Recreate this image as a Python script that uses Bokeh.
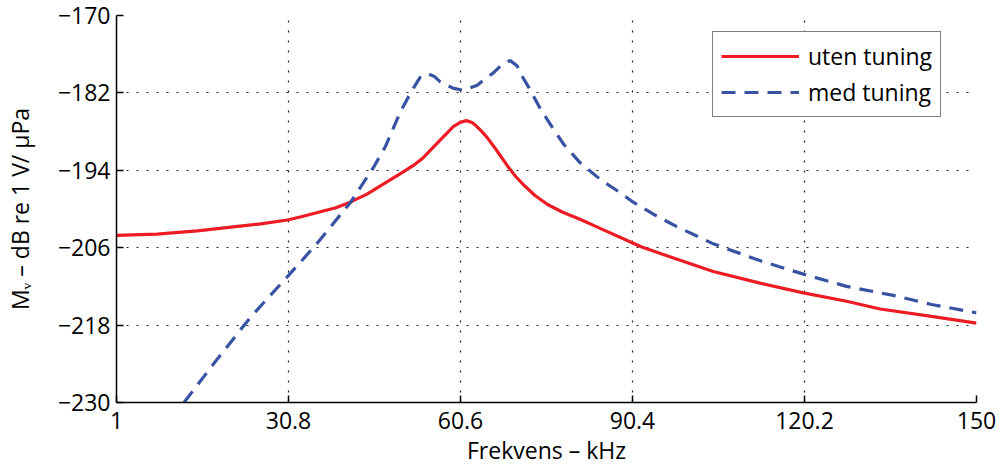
from bokeh.plotting import figure
from bokeh.models import Range1d, FixedTicker, Legend, LegendItem
from bokeh.embed import file_html
from bokeh.resources import INLINE

# --- data ---
freq_uten = [1, 8, 15, 22, 26, 30.6, 33, 36, 39, 41.6, 44.4, 47.5, 50.2, 52.5, 54.2, 55.9,
             57.2, 58.3, 59.4, 60.5, 61.6, 62.6, 63.3, 64.2, 65.2, 66.7, 68.8, 70.2, 71.7,
             73.5, 75.7, 78.3, 81.3, 84.8, 88.8, 92, 97.5, 104.4, 112.5, 120, 127.5, 133.3,
             141.9, 150]
mv_uten = [-204.1, -203.9, -203.4, -202.7, -202.3, -201.7, -201.2, -200.5, -199.8, -198.9,
           -197.7, -196.0, -194.5, -193.2, -192.0, -190.4, -189.2, -188.2, -187.2, -186.6,
           -186.3, -186.6, -187.1, -187.9, -188.9, -190.7, -193.4, -195.0, -196.4, -197.9,
           -199.3, -200.5, -201.6, -203.0, -204.6, -205.9, -207.6, -209.7, -211.5, -213.0,
           -214.3, -215.5, -216.6, -217.7]

freq_med = [12.7, 18, 24.2, 30.5, 35.7, 41.6, 45.5, 47.6, 50.2, 52.2, 53.6, 54.8, 56.0,
            57.1, 59.4, 61.1, 63.5, 65.0, 66.3, 68.0, 69.2, 70.4, 71.2, 72.4, 74.4,
            76.4, 78.5, 81.3, 84.8, 88.3, 90.3, 94.0, 98.0, 104.4, 112.8, 120.0, 127.5,
            135.6, 142.2, 150]
mv_med = [-230.0, -223.8, -216.8, -210.6, -205.4, -198.9, -193.6, -190.3, -184.9, -181.6,
          -179.6, -179.0, -179.4, -180.3, -181.3, -181.6, -180.8, -179.7, -178.9, -177.4,
          -177.0, -177.8, -179.3, -181.1, -184.4, -187.2, -190.0, -192.8, -195.4, -197.5,
          -198.8, -200.8, -202.7, -205.4, -208.1, -210.1, -212.0, -213.4, -214.8, -216.1]

x_ticks = [1, 30.8, 60.6, 90.4, 120.2, 150]
x_tick_labels = ["1", "30.8", "60.6", "90.4", "120.2", "150"]
y_ticks = [-230, -218, -206, -194, -182, -170]
y_tick_labels = ["\u2212230", "\u2212218", "\u2212206", "\u2212194", "\u2212182", "\u2212170"]

series_names = ["uten tuning", "med tuning"]
x_label = "Frekvens \u2013 kHz"
y_label = "M\u1d65 \u2013 dB re 1 V/ \u00b5Pa"

FONT = "Open Sans"
FS = "23px"

p = figure(width=1000, height=468, output_backend="svg", toolbar_location=None,
           x_range=Range1d(1, 150), y_range=Range1d(-230, -170),
           min_border_left=116, min_border_right=24, min_border_top=15,
           min_border_bottom=66, background_fill_color="white",
           border_fill_color="white")

p.outline_line_color = None

for ax, ticks in ((p.xaxis[0], x_ticks), (p.yaxis[0], y_ticks)):
    ax.ticker = FixedTicker(ticks=ticks)
    ax.major_tick_in = 7
    ax.major_tick_out = 0
    ax.minor_tick_line_color = None
    ax.axis_line_color = "black"
    ax.axis_line_width = 1.5
    ax.major_tick_line_color = "black"
    ax.major_tick_line_width = 1.5
    ax.major_label_text_font = FONT
    ax.major_label_text_font_size = FS
    ax.major_label_text_color = "black"
    ax.axis_label_text_font = FONT
    ax.axis_label_text_font_size = FS
    ax.axis_label_text_font_style = "normal"
    ax.axis_label_text_color = "black"

p.xaxis.major_label_overrides = dict(zip(x_ticks, x_tick_labels))
p.yaxis.major_label_overrides = dict(zip(y_ticks, y_tick_labels))
p.xaxis.axis_label = x_label
p.yaxis.axis_label = y_label
p.xaxis.major_label_standoff = 9
p.yaxis.major_label_standoff = 6
p.xaxis.axis_label_standoff = 2
p.yaxis.axis_label_standoff = 19

for g, ticks in ((p.xgrid[0], x_ticks), (p.ygrid[0], y_ticks)):
    g.ticker = FixedTicker(ticks=ticks)
    g.grid_line_color = "#222222"
    g.grid_line_dash = "2 8"
    g.grid_line_width = 1.2

r1 = p.line(freq_uten, mv_uten, line_color="#ED1C24", line_width=3.2, line_join="round")
r2 = p.line(freq_med, mv_med, line_color="#3953A4", line_width=3.2, line_dash="14 9",
            line_join="round")

legend = Legend(items=[LegendItem(label=series_names[0], renderers=[r1]),
                       LegendItem(label=series_names[1], renderers=[r2])],
                location=(596, 285))
legend.label_text_font = FONT
legend.label_text_font_size = FS
legend.label_text_color = "black"
legend.glyph_width = 78
legend.glyph_height = 30
legend.label_height = 30
legend.label_standoff = 9
legend.spacing = 4
legend.padding = 8
legend.margin = 0
legend.border_line_color = "black"
legend.border_line_width = 1.5
legend.background_fill_color = "white"
legend.background_fill_alpha = 1
p.add_layout(legend)

open("out.html", "w").write(file_html(p, INLINE))
